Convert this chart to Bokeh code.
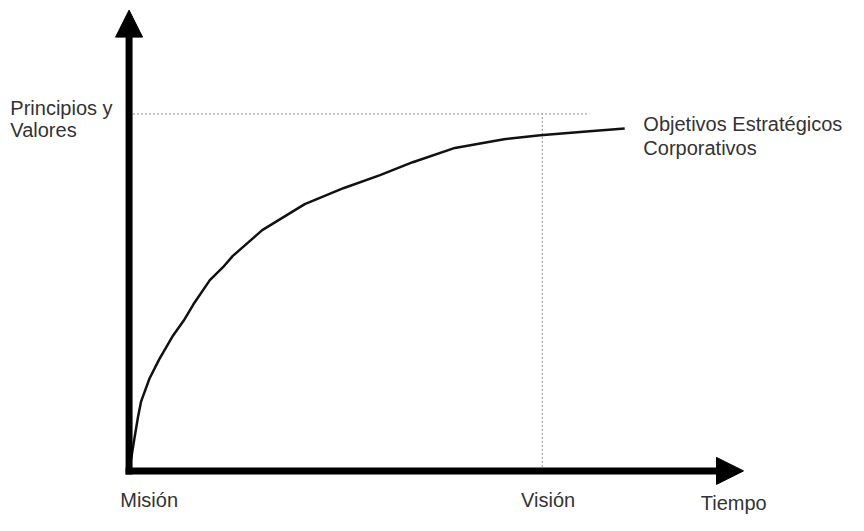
from bokeh.plotting import figure
from bokeh.models import Range1d, Arrow, NormalHead, Label
from bokeh.embed import file_html
from bokeh.resources import INLINE

# ---- data ----
tiempo = [0, 0.071, 0.135, 0.214, 0.292, 0.492, 0.729, 1.045, 1.323, 1.561,
          1.955, 2.273, 2.511, 3.223, 4.252, 5.202, 6.074, 6.865, 7.886,
          9.074, 9.952, 11.069, 11.995]
valor = [0, 4.89, 9.51, 14.95, 19.48, 25.82, 31.25, 37.58, 42.12, 46.74,
         53.45, 57.07, 60.24, 67.47, 74.73, 79.27, 82.88, 86.49, 90.49,
         92.93, 94.02, 95.11, 95.92]

vision_t = 10.0          # "Visión" on the time axis
principios_v = 100.0     # "Principios y Valores" level
guia_h_fin = 11.14       # end of horizontal dotted guide
eje_x_fin = 14.87        # tip of time arrow
eje_y_fin = 129.1        # tip of value arrow

# ---- layout ----
W, H = 848, 515
SX, SY = W / 864, H / 531
OX, OY = 131 * SX, 485 * SY      # canvas position of origin
KX, KY = 42.1 * SX, 3.68 * SY    # px per unit
x_range = Range1d(-OX / KX, (W - OX) / KX)
y_range = Range1d(-(H - OY) / KY, OY / KY)

p = figure(width=W, height=H, x_range=x_range, y_range=y_range,
           output_backend="svg", toolbar_location=None,
           x_axis_location=None, y_axis_location=None, min_border=0)
p.min_border_left = p.min_border_right = p.min_border_top = p.min_border_bottom = 0
p.grid.visible = False
p.outline_line_color = None
p.background_fill_color = "white"
p.border_fill_color = "white"

GUIDE = dict(line_color="#8a8a8a", line_width=1, line_dash="2 2")
p.line([0, guia_h_fin], [principios_v, principios_v], **GUIDE)
p.line([vision_t, vision_t], [0, principios_v], **GUIDE)

p.line(tiempo, valor, line_color="#111111", line_width=2.5, line_join="round")

# axes as arrows
AW = 7
p.add_layout(Arrow(end=NormalHead(size=27, fill_color="black", line_color="black", line_width=1),
                   x_start=-(AW / 2) / KX, y_start=0, x_end=eje_x_fin, y_end=0,
                   line_color="black", line_width=AW))
p.add_layout(Arrow(end=NormalHead(size=27, fill_color="black", line_color="black", line_width=1),
                   x_start=0, y_start=-(AW / 2) / KY, x_end=0, y_end=eje_y_fin,
                   line_color="black", line_width=AW))

FONT = dict(text_font="Liberation Sans", text_font_size="20px", text_color="#333333",
            text_baseline="alphabetic")

def lab(x, y, t, align="left", xo=0, yo=0):
    p.add_layout(Label(x=x, y=y, text=t, text_align=align,
                       x_offset=xo * SX, y_offset=yo * SY, **FONT))

lab(0, principios_v, "Principios y", xo=-121, yo=6)
lab(0, principios_v, "Valores", xo=-121, yo=-17)
lab(tiempo[-1], valor[-1], "Objetivos Estratégicos", xo=19, yo=5)
lab(tiempo[-1], valor[-1], "Corporativos", xo=19, yo=-20)
lab(0, 0, "Misión", xo=-9, yo=-30)
lab(vision_t, 0, "Visión", align="center", xo=6, yo=-30)
lab(eje_x_fin, 0, "Tiempo", align="center", xo=-10, yo=-33)

open("out.html", "w").write(file_html(p, INLINE))
